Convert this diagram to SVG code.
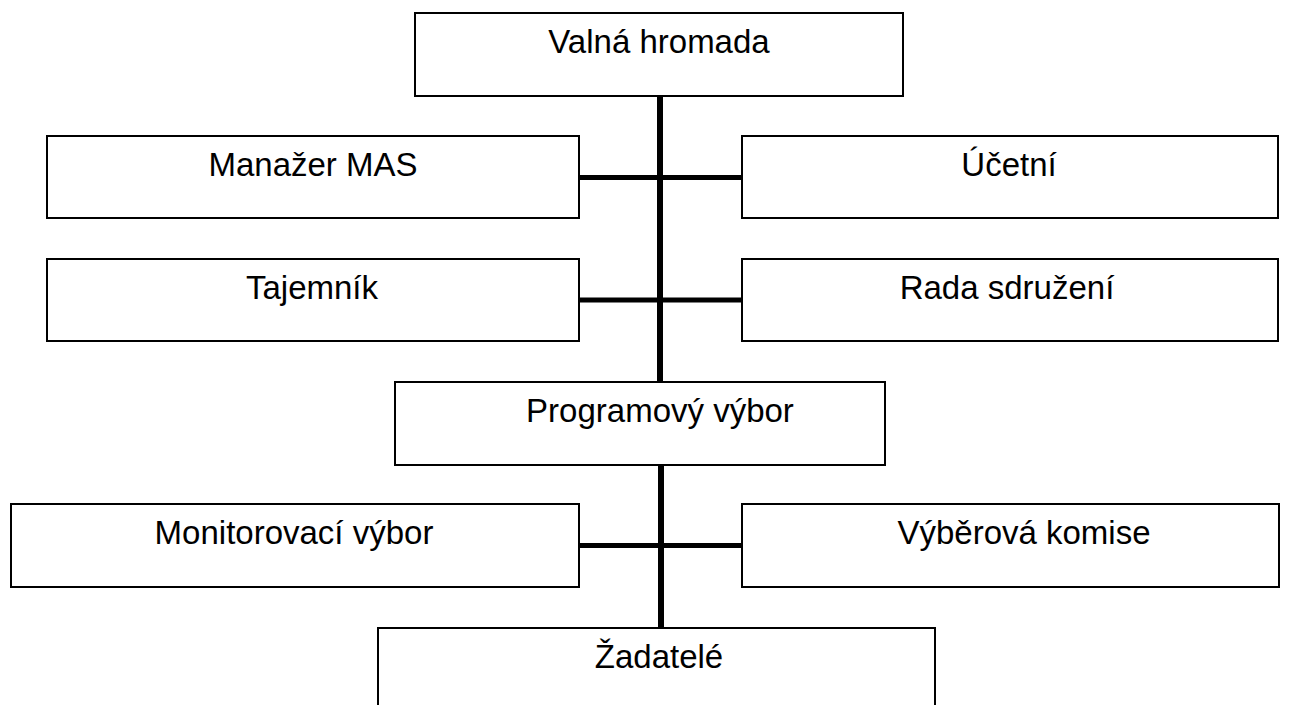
<svg xmlns="http://www.w3.org/2000/svg" width="1301" height="705" viewBox="0 0 1301 705">
<style>
.box{fill:#fff;stroke:#000;stroke-width:2}
.lbl{font-family:"Liberation Sans",Arial,sans-serif;font-size:33px;fill:#000;text-anchor:middle}
.con{stroke:#000;stroke-width:6;fill:none}
.conh{stroke:#000;stroke-width:5;fill:none}
</style>
<rect width="1301" height="705" fill="#fff"/>
<g id="connectors">
<line class="con" x1="660" y1="96" x2="660" y2="382"/>
<line class="con" x1="661" y1="465" x2="661" y2="628"/>
<line class="conh" x1="579" y1="177.5" x2="742" y2="177.5"/>
<line class="conh" x1="579" y1="300" x2="742" y2="300"/>
<line class="conh" x1="579" y1="545.5" x2="742" y2="545.5"/>
</g>
<g id="valna">
<rect class="box" x="415" y="13" width="488" height="83"/>
<text class="lbl" x="659" y="53">Valná hromada</text>
</g>
<g id="manazer">
<rect class="box" x="47" y="136" width="532" height="82"/>
<text class="lbl" x="313" y="176">Manažer MAS</text>
</g>
<g id="ucetni">
<rect class="box" x="742" y="136" width="536" height="82"/>
<text class="lbl" x="1009" y="176">Účetní</text>
</g>
<g id="tajemnik">
<rect class="box" x="47" y="259" width="532" height="82"/>
<text class="lbl" x="312" y="299">Tajemník</text>
</g>
<g id="rada">
<rect class="box" x="742" y="259" width="536" height="82"/>
<text class="lbl" x="1007" y="299">Rada sdružení</text>
</g>
<g id="programovy">
<rect class="box" x="395" y="382" width="490" height="83"/>
<text class="lbl" x="660" y="422">Programový výbor</text>
</g>
<g id="monitorovaci">
<rect class="box" x="11" y="504" width="568" height="83"/>
<text class="lbl" x="294" y="544">Monitorovací výbor</text>
</g>
<g id="vyberova">
<rect class="box" x="742" y="504" width="537" height="83"/>
<text class="lbl" x="1024" y="544">Výběrová komise</text>
</g>
<g id="zadatele">
<rect class="box" x="378" y="628" width="557" height="100"/>
<text class="lbl" x="659" y="668">Žadatelé</text>
</g>
</svg>
